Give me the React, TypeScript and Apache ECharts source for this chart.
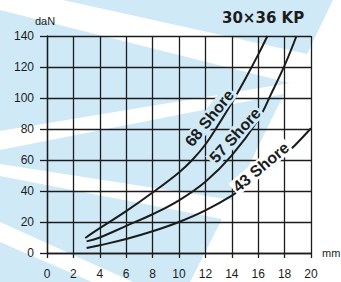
import React, { useEffect, useRef } from "react";
import * as echarts from "echarts";

const xTicks = [0, 2, 4, 6, 8, 10, 12, 14, 16, 18, 20];
const yTicks = [0, 20, 40, 60, 80, 100, 120, 140];

const x68 = [2.9, 4, 6, 8, 10, 11, 12, 13, 14, 15, 16, 16.7];
const y68 = [9.7, 16, 27, 39, 52, 60, 70, 83, 97, 112, 128, 140];

const x57 = [3.0, 4, 6, 8, 10, 12, 14, 16, 17, 18, 18.9];
const y57 = [7.5, 10, 17.5, 25, 34, 46, 63, 86, 103, 121, 140];

const x43 = [3.0, 4, 6, 8, 10, 12, 14, 16, 18, 20];
const y43 = [3.2, 5, 9, 14, 20, 27.5, 37, 49, 63, 80.5];

const seriesNames = ["68 Shore", "57 Shore", "43 Shore"];
// label anchor points (data coords) and angles (deg)
const labelX = [12.3, 14.25, 16.2];
const labelY = [87, 76, 55.5];
const labelAngle = [51, 48, 40];

const title = "30×36 KP";
const yUnit = "daN";
const xUnit = "mm";

const BLUE = "#cfe9f7";
const INK = "#1c1c1c";

const bgPolys: number[][][] = [
  [[63, 0], [333, 0], [307, 54]],
  [[0, 10], [290, 83], [0, 131]],
  [[0, 150], [284, 94], [232, 200], [0, 164]],
  [[0, 176], [222, 219], [190, 282], [133, 282], [0, 222]],
  [[0, 242], [0, 282], [92, 282]],
];

function zip(xs: number[], ys: number[]) {
  return xs.map((x, i) => [x, ys[i]]);
}

export default function App() {
  const ref = useRef<HTMLDivElement>(null);
  useEffect(() => {
    if (!ref.current) return;
    const chart = echarts.init(ref.current, undefined, { renderer: "svg" });
    const lineSeries = [zip(x68, y68), zip(x57, y57), zip(x43, y43)].map((d, i) => ({
      type: "line",
      name: seriesNames[i],
      data: d,
      smooth: 0.4,
      symbol: "none",
      lineStyle: { color: INK, width: 2 },
      z: 5,
    }));
    chart.setOption({
      animation: false,
      backgroundColor: "#ffffff",
      grid: { left: 47, right: 30, top: 36, bottom: 29, containLabel: false },
      xAxis: {
        type: "value",
        min: 0,
        max: 20,
        interval: 2,
        axisLine: { show: true, lineStyle: { color: INK, width: 1.3 } },
        axisTick: { show: true, length: 5, inside: false, lineStyle: { color: INK, width: 1.3 } },
        axisLabel: { color: INK, fontSize: 12, margin: 15, fontFamily: "Liberation Sans" },
        splitLine: { show: true, lineStyle: { color: INK, width: 1.3 } },
      },
      yAxis: {
        type: "value",
        min: 0,
        max: 140,
        interval: 20,
        axisLine: { show: true, lineStyle: { color: INK, width: 1.3 } },
        axisTick: { show: true, length: 7, lineStyle: { color: INK, width: 1.3 } },
        axisLabel: { color: INK, fontSize: 12, margin: 13, fontFamily: "Liberation Sans" },
        splitLine: { show: true, lineStyle: { color: INK, width: 1.3 } },
      },
      series: lineSeries,
    });

    const polys = bgPolys.map((p) => ({
      type: "polygon",
      shape: { points: p },
      style: { fill: BLUE },
      z: -10,
      silent: true,
    }));
    const labels = seriesNames.map((n, i) => {
      const [px, py] = chart.convertToPixel({ gridIndex: 0 }, [labelX[i], labelY[i]]) as number[];
      return {
        type: "text",
        x: px,
        y: py,
        rotation: (labelAngle[i] * Math.PI) / 180,
        z: 20,
        style: {
          text: n,
          fill: INK,
          font: "bold 16px 'Liberation Sans'",
          align: "center",
          verticalAlign: "middle",
          backgroundColor: i === 2 ? "#ffffff" : BLUE,
          padding: [0, 2],
        },
      };
    });
    const [mx, my] = chart.convertToPixel({ gridIndex: 0 }, [20, 0]) as number[];
    chart.setOption({
      graphic: [
        ...polys,
        {
          type: "text",
          x: 222,
          y: 18,
          style: { text: title, fill: INK, font: "bold 15px 'DejaVu Sans'", verticalAlign: "middle" },
          z: 20,
        },
        {
          type: "text",
          x: 35,
          y: 21,
          style: { text: yUnit, fill: INK, font: "11px 'Liberation Sans'", verticalAlign: "middle" },
          z: 20,
        },
        {
          type: "text",
          x: mx + 11,
          y: my,
          style: { text: xUnit, fill: INK, font: "11px 'Liberation Sans'", verticalAlign: "middle" },
          z: 20,
        },
        ...labels,
      ],
    });
    return () => chart.dispose();
  }, []);
  return (
    <div
      ref={ref}
      style={{ position: "fixed", left: 0, top: 0, width: 341, height: 282 }}
    />
  );
}
